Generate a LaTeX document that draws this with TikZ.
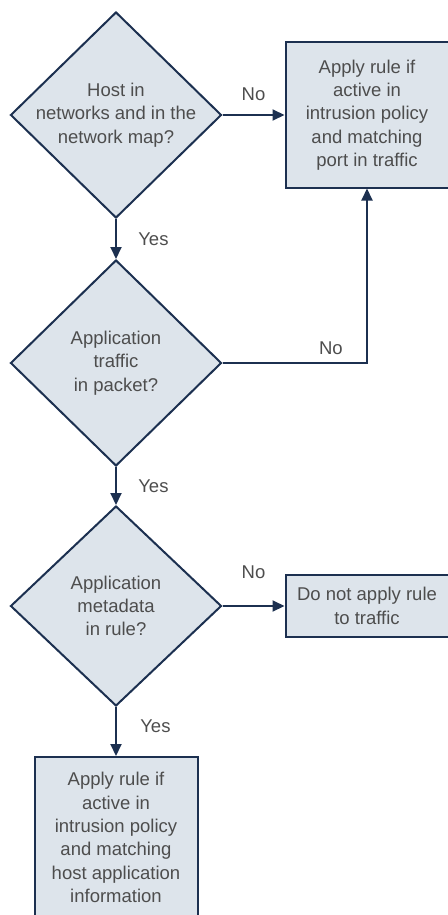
\documentclass[tikz,border=0pt]{standalone}
\usepackage{fontspec}
\setmainfont{Liberation Sans}
\usetikzlibrary{shapes.geometric,arrows.meta,positioning}
\definecolor{navy}{HTML}{1C3050}
\definecolor{paleblue}{HTML}{DDE4EB}
\definecolor{labelgray}{HTML}{4D4D4D}
\tikzstyle{decision} = [draw=navy, fill=paleblue, line width=2pt, diamond,
    inner sep=-6pt, minimum width=211pt, minimum height=206pt,
    align=center, text=labelgray, font=\fontsize{18.5}{23.3}\selectfont]
\tikzstyle{action} = [draw=navy, fill=paleblue, line width=2pt, rectangle,
    inner sep=0pt, minimum width=163pt, align=center, text=labelgray,
    font=\fontsize{18.5}{23.3}\selectfont]
\tikzstyle{flow} = [draw=navy, line width=2pt, -{Triangle[length=12pt,width=11pt]}]
\tikzstyle{answer} = [text=labelgray, font=\fontsize{18.5}{22}\selectfont]

\begin{document}
\begin{tikzpicture}[x=1pt, y=-1pt]
    \useasboundingbox (0,0) rectangle (447,915);
    \node [decision] (hostmap) at (116,115) {Host in\\networks and in the\\network map?};
    \node [action, minimum height=145pt, right=62pt of hostmap] (portrule)
        {Apply rule if\\active in\\intrusion policy\\and matching\\port in traffic};
    \node [decision, below=40pt of hostmap] (apptraffic) {Application\\traffic\\in packet?};
    \node [decision, minimum height=200pt, below=38pt of apptraffic] (appmeta)
        {Application\\metadata\\in rule?};
    \node [action, minimum height=62pt, right=62pt of appmeta] (noapply)
        {Do not apply rule\\to traffic};
    \node [action, minimum height=161pt, below=49pt of appmeta] (hostrule)
        {Apply rule if\\active in\\intrusion policy\\and matching\\host application\\information};

    \draw [flow] (hostmap.east) -- node [answer, above=10pt] {No} (portrule.west);
    \draw [flow] (hostmap.south) -- node [answer, right=18pt] {Yes} (apptraffic.north);
    \draw [flow] (apptraffic.east) -| node [answer, pos=0.375, above=4pt] {No} (portrule.south);
    \draw [flow] (apptraffic.south) -- node [answer, right=18pt] {Yes} (appmeta.north);
    \draw [flow] (appmeta.east) -- node [answer, above=23pt] {No} (noapply.west);
    \draw [flow] (appmeta.south) -- node [answer, pos=0.4, right=20pt] {Yes} (hostrule.north);
\end{tikzpicture}
\end{document}
